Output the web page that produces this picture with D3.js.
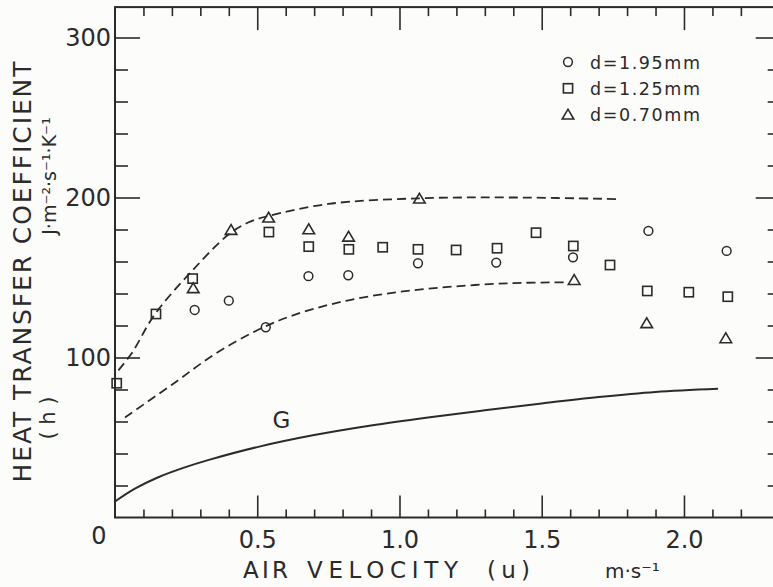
<!DOCTYPE html>
<html>
<head>
<meta charset="utf-8">
<script src="https://cdn.jsdelivr.net/npm/d3@7"></script>
<style>
  body { margin: 0; background: #fcfcfb; }
  svg { display: block; font-family: "DejaVu Sans", sans-serif; }
</style>
</head>
<body>
<div id="chart"></div>
<script>
'use strict';
// values: u = air velocity (m/s), h = heat transfer coefficient
const uCircle = [0.28, 0.40, 0.53, 0.68, 0.82, 1.065, 1.34, 1.61, 1.875, 2.15];
const hCircle = [129.7, 135.5, 118.9, 150.8, 151.4, 158.9, 159.3, 162.6, 179.1, 166.6];

const uSquare = [0.006, 0.144, 0.273, 0.541, 0.681, 0.822, 0.941, 1.065, 1.199, 1.343, 1.48, 1.611, 1.74, 1.871, 2.017, 2.154];
const hSquare = [83.9, 127.2, 149.3, 178.4, 169.3, 167.6, 168.9, 167.6, 167.2, 168.3, 178, 169.7, 157.8, 141.6, 140.8, 138];

const uTriangle = [0.275, 0.408, 0.54, 0.681, 0.821, 1.07, 1.614, 1.869, 2.147];
const hTriangle = [143.3, 179.7, 187.4, 180.1, 175.5, 199.3, 148.4, 121.4, 112];

// dashed envelope curves and the solid curve G
const uUpper = [0.012, 0.06, 0.14, 0.27, 0.4, 0.47, 0.54, 0.75, 1.07, 1.4, 1.77];
const hUpper = [92, 103, 127, 154, 177, 184.5, 188.5, 196, 199.5, 200, 199];

const uLower = [0.035, 0.2, 0.35, 0.5, 0.62, 0.8, 1.0, 1.2, 1.4, 1.585];
const hLower = [62.5, 83, 102, 117, 126, 135, 141, 144.5, 146.5, 147];

const uG = [0, 0.07, 0.15, 0.24, 0.33, 0.5, 0.7, 0.9, 1.1, 1.3, 1.5, 1.7, 1.9, 2.12];
const hG = [10, 18, 25, 31, 36, 44, 51.5, 57.5, 62.5, 67, 71.3, 75.3, 78.5, 80.5];

const xMajor = [0.5, 1.0, 1.5, 2.0];
const xMinor = d3.range(1, 23).filter(i => i % 5 !== 0).map(i => i / 10);
const yMajor = [100, 200, 300];
const yMinor = d3.range(20, 320, 20).filter(v => v % 100 !== 0);

const legendLabels = ['d=1.95mm', 'd=1.25mm', 'd=0.70mm'];

const width = 773, height = 587;
const ink = '#2b2b2b';

const x = d3.scaleLinear().domain([0, 2.34]).range([115, 780.7]);
const y = d3.scaleLinear().domain([0, 319]).range([517.5, 7.1]);

const svg = d3.select('#chart').append('svg')
    .attr('width', width)
    .attr('height', height);

// frame
svg.append('rect')
    .attr('x', x(0)).attr('y', y(319))
    .attr('width', x(2.34) - x(0)).attr('height', y(0) - y(319))
    .attr('fill', 'none').attr('stroke', ink).attr('stroke-width', 2);

function styleAxis(g) {
  g.select('.domain').remove();
  g.selectAll('.tick line').attr('stroke', ink).attr('stroke-width', 1.6);
  g.selectAll('.tick text').attr('fill', ink).attr('font-size', 24)
    .attr('font-family', '"DejaVu Sans", sans-serif');
}

// bottom axis
svg.append('g').attr('transform', 'translate(0,' + y(0) + ')')
    .call(d3.axisBottom(x).tickValues(xMajor).tickSize(-22).tickPadding(13).tickFormat(d3.format('.1f')))
    .call(styleAxis);
svg.append('g').attr('transform', 'translate(0,' + y(0) + ')')
    .call(d3.axisBottom(x).tickValues(xMinor).tickSize(-8).tickFormat(''))
    .call(styleAxis);
// top axis
svg.append('g').attr('transform', 'translate(0,' + y(319) + ')')
    .call(d3.axisTop(x).tickValues(xMajor).tickSize(-23).tickFormat(''))
    .call(styleAxis);
svg.append('g').attr('transform', 'translate(0,' + y(319) + ')')
    .call(d3.axisTop(x).tickValues(xMinor).tickSize(-9).tickFormat(''))
    .call(styleAxis);
// left axis
svg.append('g').attr('transform', 'translate(' + x(0) + ',0)')
    .call(d3.axisLeft(y).tickValues(yMajor).tickSize(-25).tickPadding(4))
    .call(styleAxis);
svg.append('g').attr('transform', 'translate(' + x(0) + ',0)')
    .call(d3.axisLeft(y).tickValues(yMinor).tickSize(-13).tickFormat(''))
    .call(styleAxis);
// right axis
svg.append('g').attr('transform', 'translate(' + x(2.34) + ',0)')
    .call(d3.axisRight(y).tickValues(yMajor).tickSize(-25).tickFormat(''))
    .call(styleAxis);
svg.append('g').attr('transform', 'translate(' + x(2.34) + ',0)')
    .call(d3.axisRight(y).tickValues(yMinor).tickSize(-13).tickFormat(''))
    .call(styleAxis);

// origin label
svg.append('text')
    .attr('x', x(0) - 16).attr('y', y(0) + 26)
    .attr('text-anchor', 'middle').attr('font-size', 24).attr('fill', ink)
    .text('0');

// curves
const line = d3.line()
    .x(d => x(d[0]))
    .y(d => y(d[1]))
    .curve(d3.curveCatmullRom.alpha(0.5));

svg.append('path').datum(d3.zip(uUpper, hUpper))
    .attr('d', line).attr('fill', 'none').attr('stroke', ink)
    .attr('stroke-width', 1.8).attr('stroke-dasharray', '9,5');
svg.append('path').datum(d3.zip(uLower, hLower))
    .attr('d', line).attr('fill', 'none').attr('stroke', ink)
    .attr('stroke-width', 1.8).attr('stroke-dasharray', '9,5');
svg.append('path').datum(d3.zip(uG, hG))
    .attr('d', line).attr('fill', 'none').attr('stroke', ink)
    .attr('stroke-width', 2);

svg.append('text')
    .attr('x', x(0.585)).attr('y', y(56))
    .attr('text-anchor', 'middle').attr('font-size', 23).attr('fill', ink)
    .text('G');

// markers
function drawCircle(sel) {
  sel.append('circle').attr('r', 4.4)
    .attr('fill', 'none').attr('stroke', ink).attr('stroke-width', 1.5);
}
function drawSquare(sel) {
  sel.append('rect').attr('x', -4.6).attr('y', -4.6).attr('width', 9.2).attr('height', 9.2)
    .attr('fill', 'none').attr('stroke', ink).attr('stroke-width', 1.6);
}
function drawTriangle(sel) {
  sel.append('path').attr('d', 'M-5.8,4.4L5.8,4.4L0,-5.4Z')
    .attr('fill', 'none').attr('stroke', ink).attr('stroke-width', 1.6)
    .attr('stroke-linejoin', 'miter');
}

svg.selectAll('.pt-circle').data(d3.zip(uCircle, hCircle))
  .enter().append('g').attr('class', 'pt-circle')
    .attr('transform', d => 'translate(' + x(d[0]) + ',' + y(d[1]) + ')')
    .call(drawCircle);
svg.selectAll('.pt-square').data(d3.zip(uSquare, hSquare))
  .enter().append('g').attr('class', 'pt-square')
    .attr('transform', d => 'translate(' + x(d[0]) + ',' + y(d[1]) + ')')
    .call(drawSquare);
svg.selectAll('.pt-triangle').data(d3.zip(uTriangle, hTriangle))
  .enter().append('g').attr('class', 'pt-triangle')
    .attr('transform', d => 'translate(' + x(d[0]) + ',' + y(d[1]) + ')')
    .call(drawTriangle);

// legend
const legend = svg.append('g').attr('transform', 'translate(568,62)');
const markers = [drawCircle, drawSquare, drawTriangle];
legendLabels.forEach(function(label, i) {
  const row = legend.append('g').attr('transform', 'translate(0,' + (i * 26.3) + ')');
  row.append('g').call(markers[i]);
  row.append('text')
      .attr('x', 22).attr('y', 6.5)
      .attr('font-size', 17.5).attr('fill', ink)
      .attr('textLength', 110).attr('lengthAdjust', 'spacing')
      .text(label);
});

// axis titles
const xTitle = [['AIR', 243, 45], ['VELOCITY', 307, 151], ['(u)', 487, 43]];
xTitle.forEach(function(w) {
  svg.append('text')
      .attr('x', w[1]).attr('y', 578)
      .attr('font-size', 23).attr('fill', ink)
      .attr('textLength', w[2]).attr('lengthAdjust', 'spacing')
      .text(w[0]);
});
svg.append('text')
    .attr('x', 605).attr('y', 578)
    .attr('font-size', 20).attr('fill', ink)
    .text('m·s⁻¹');

svg.append('text')
    .attr('transform', 'translate(31,272) rotate(-90)')
    .attr('text-anchor', 'middle')
    .attr('font-size', 25).attr('fill', ink)
    .attr('textLength', 421).attr('lengthAdjust', 'spacing')
    .text('HEAT TRANSFER COEFFICIENT');
svg.append('text')
    .attr('transform', 'translate(56,176) rotate(-90)')
    .attr('text-anchor', 'middle')
    .attr('font-size', 19).attr('fill', ink)
    .text('J·m⁻²·s⁻¹·K⁻¹');
svg.append('text')
    .attr('transform', 'translate(55,418) rotate(-90)')
    .attr('text-anchor', 'middle')
    .attr('font-size', 21).attr('fill', ink)
    .text('( h )');
</script>
</body>
</html>
